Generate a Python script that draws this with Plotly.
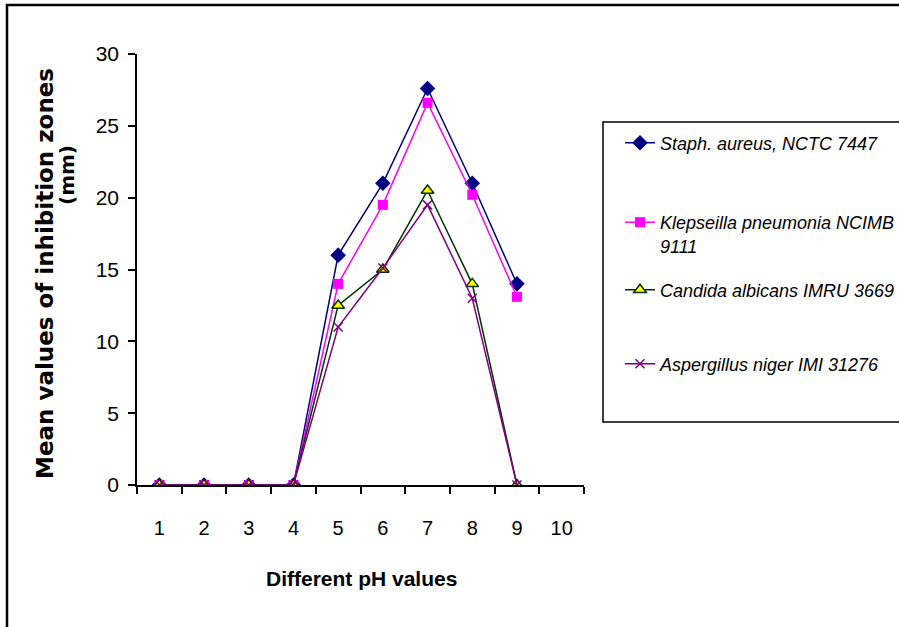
import plotly.graph_objects as go

categories = ["1", "2", "3", "4", "5", "6", "7", "8", "9", "10"]
ph_values = ["1", "2", "3", "4", "5", "6", "7", "8", "9"]

staph = [0, 0, 0, 0, 16, 21, 27.6, 21, 14]
klep = [0, 0, 0, 0, 14, 19.5, 26.6, 20.2, 13.1]
candida = [0, 0, 0, 0, 12.5, 15, 20.5, 14, 0]
asper = [0, 0, 0, 0, 11, 15.1, 19.5, 13, 0]

names = [
    "<i>Staph. aureus, NCTC 7447</i>",
    "<i>Klepseilla pneumonia NCIMB<br>9111</i>",
    "<i>Candida albicans IMRU 3669</i>",
    "<i>Aspergillus niger IMI 31276</i>",
]

FONT = "Liberation Sans, Arial, sans-serif"
TFONT = "DejaVu Sans, Liberation Sans, sans-serif"

fig = go.Figure()
fig.add_trace(go.Scatter(
    x=ph_values, y=staph, name=names[0], mode="lines+markers", legend="legend",
    line=dict(color="#000080", width=1.5),
    marker=dict(symbol="diamond", size=12, color="#000080")))
fig.add_trace(go.Scatter(
    x=ph_values, y=klep, name=names[1], mode="lines+markers", legend="legend2",
    line=dict(color="#FF00FF", width=1.5),
    marker=dict(symbol="square", size=10, color="#FF00FF")))
fig.add_trace(go.Scatter(
    x=ph_values, y=candida, name=names[2], mode="lines+markers", legend="legend3",
    line=dict(color="#003300", width=1.5),
    marker=dict(symbol="triangle-up", size=11, color="#FFFF00",
                line=dict(color="#003300", width=1.5))))
fig.add_trace(go.Scatter(
    x=ph_values, y=asper, name=names[3], mode="lines+markers", legend="legend4",
    line=dict(color="#800080", width=1.5),
    marker=dict(symbol="x-thin", size=9, color="#800080",
                line=dict(color="#800080", width=1.5))))

L, R, T, B = 137, 584, 54, 485
W, H = 899, 627
pw, ph = R - L, B - T

def px(x):
    return (x - L) / pw

def py(y):
    return (B - y) / ph

leg_common = dict(font=dict(family=FONT, size=18, color="black"),
                  bgcolor="rgba(0,0,0,0)", borderwidth=0, itemwidth=30,
                  xanchor="left", x=px(620))

fig.update_layout(
    width=W, height=H,
    margin=dict(l=L, r=W - R, t=T, b=H - B, autoexpand=False),
    paper_bgcolor="white", plot_bgcolor="white",
    font=dict(family=FONT, color="black"),
    showlegend=True,
    legend=dict(**leg_common, y=py(143), yanchor="middle"),
    legend2=dict(**leg_common, y=py(204), yanchor="top", valign="top"),
    legend3=dict(**leg_common, y=py(290), yanchor="middle"),
    legend4=dict(**leg_common, y=py(364), yanchor="middle"),
    xaxis=dict(
        type="category", categoryorder="array", categoryarray=categories,
        tickvals=categories, ticktext=categories,
        range=[-0.5, 9.5], tickson="boundaries",
        showline=True, linecolor="black", linewidth=1.5,
        ticks="outside", ticklen=7, tickwidth=1.5, tickcolor="black",
        showgrid=False, zeroline=False,
        tickfont=dict(family=FONT, size=20, color="black"),
        ticklabelstandoff=24,
    ),
    yaxis=dict(
        range=[0, 30], tickvals=[0, 5, 10, 15, 20, 25, 30],
        showline=True, linecolor="black", linewidth=1.5,
        ticks="outside", ticklen=7, tickwidth=1.5, tickcolor="black",
        showgrid=False, zeroline=False,
        tickfont=dict(family=FONT, size=21, color="black"),
        ticklabelstandoff=5,
    ),
    shapes=[
        dict(type="rect", xref="paper", yref="paper",
             x0=px(603), x1=px(912), y0=py(422), y1=py(122),
             line=dict(color="black", width=1.5), fillcolor="rgba(0,0,0,0)"),
        dict(type="rect", xref="paper", yref="paper",
             x0=px(7), x1=px(912), y0=py(640), y1=py(5),
             line=dict(color="black", width=2.5), fillcolor="rgba(0,0,0,0)"),
    ],
    annotations=[
        dict(text="<b>Different pH values</b>", xref="paper", yref="paper",
             x=px(361), y=py(578), xanchor="center", yanchor="middle",
             showarrow=False, font=dict(family=FONT, size=21, color="black")),
        dict(text="<b>Mean values of inhibition zones</b>", xref="paper", yref="paper",
             x=px(45), y=py(274), xanchor="center", yanchor="middle", textangle=-90,
             showarrow=False, font=dict(family=TFONT, size=23, color="black")),
        dict(text="<b>(mm)</b>", xref="paper", yref="paper",
             x=px(67), y=py(175), xanchor="center", yanchor="middle", textangle=-90,
             showarrow=False, font=dict(family=TFONT, size=20, color="black")),
    ],
)

fig.write_html(
    "out.html",
    config={"displayModeBar": False},
    post_script="document.body.style.margin='0';document.body.style.overflow='hidden';",
)
